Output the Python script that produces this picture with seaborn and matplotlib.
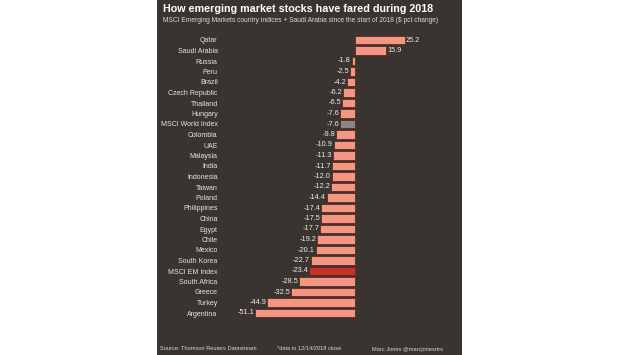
import matplotlib
matplotlib.use("Agg")
import matplotlib.pyplot as plt
import seaborn as sns
import pandas as pd
from matplotlib.patches import Rectangle

countries = ["Qatar", "Saudi Arabia", "Russia", "Peru", "Brazil", "Czech Republic",
             "Thailand", "Hungary", "MSCI World Index", "Colombia", "UAE", "Malaysia",
             "India", "Indonesia", "Taiwan", "Poland", "Philippines", "China", "Egypt",
             "Chile", "Mexico", "South Korea", "MSCI EM Index", "South Africa",
             "Greece", "Turkey", "Argentina"]
changes = [25.2, 15.9, -1.8, -2.5, -4.2, -6.2, -6.5, -7.6, -7.6, -9.8, -10.9, -11.3,
           -11.7, -12.0, -12.2, -14.4, -17.4, -17.5, -17.7, -19.2, -20.1, -22.7,
           -23.4, -28.5, -32.5, -44.9, -51.1]

plt.rcParams["font.family"] = ["Liberation Sans", "DejaVu Sans"]

bg = "#3a3431"
salmon = "#f39684"
special = {"MSCI World Index": "#8a8886", "MSCI EM Index": "#c8302a"}
colors = [special.get(c, salmon) for c in countries]

df = pd.DataFrame({"country": countries, "change": changes})

fig = plt.figure(figsize=(6.2, 3.55), dpi=100)
fig.patches.append(Rectangle((157 / 620, 0), 305 / 620, 1, transform=fig.transFigure,
                             facecolor=bg, edgecolor="none", zorder=-10))

ax = fig.add_axes([251 / 620, 36.75 / 355, 163 / 620, 283.5 / 355])
ax.set_facecolor("none")
sns.barplot(data=df, y="country", x="change", hue="country", palette=colors,
            legend=False, orient="h", width=0.8, ax=ax, saturation=1,
            edgecolor="#5e2a22", linewidth=0.6)
ax.set_xlim(-53, 30)
ax.set_ylim(26.5, -0.5)
for s in ax.spines.values():
    s.set_visible(False)
ax.set_xticks([])
ax.set_xlabel("")
ax.set_ylabel("")
ax.tick_params(axis="y", length=0, pad=24, labelsize=5.0, labelcolor="#e8e4e0")

for i, v in enumerate(changes):
    if v >= 0:
        ax.text(v + 0.4, i, f"{v:.1f}", ha="left", va="center", fontsize=5.3, color="#f0ece8")
    else:
        ax.text(v - 0.4, i, f"{v:.1f}", ha="right", va="center", fontsize=5.3, color="#f0ece8")

fig.text(163 / 620, 1 - 9 / 355, "How emerging market stocks have fared during 2018",
         fontsize=7.75, fontweight="bold", color="white", va="center", ha="left")
fig.text(163 / 620, 1 - 21 / 355,
         "MSCI Emerging Markets country indices + Saudi Arabia since the start of 2018 ($ pct change)",
         fontsize=4.75, color="#dcd8d4", va="center", ha="left")

foot_y = 1 - 349 / 355
fig.text(160 / 620, foot_y, "Source: Thomson Reuters Datastream", fontsize=4.1,
         color="#dcd8d4", va="center", ha="left")
fig.text(277 / 620, foot_y, "*data to 12/14/2018 close", fontsize=4.1,
         color="#dcd8d4", va="center", ha="left")
fig.text(372 / 620, foot_y, "Marc Jones @marcjonesrtrs", fontsize=4.1,
         color="#dcd8d4", va="center", ha="left")

fig.savefig("out.png", dpi=100, facecolor="white")
